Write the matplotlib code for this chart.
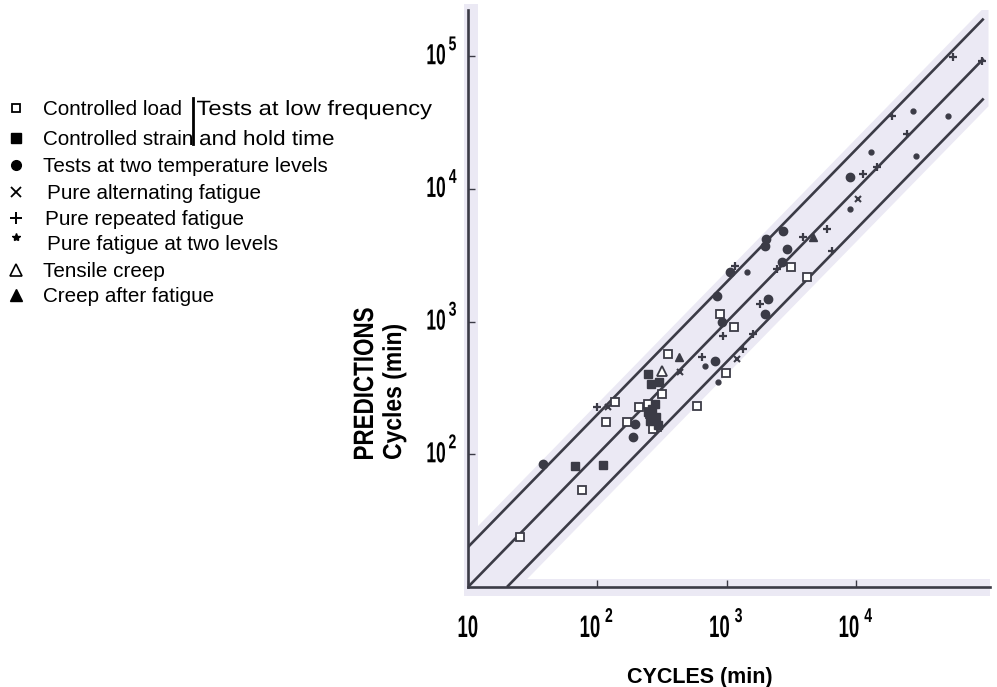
import matplotlib
matplotlib.use("Agg")
import matplotlib.pyplot as plt
from matplotlib.lines import Line2D
from matplotlib.patches import Rectangle, PathPatch
from matplotlib.textpath import TextPath
from matplotlib.font_manager import FontProperties
from matplotlib.transforms import Affine2D, IdentityTransform
import numpy as np

load_obs = [25, 76, 116, 169, 136, 209, 288, 315, 350, 586, 980, 880, 1130, 3100, 4150, 245, 268, 254]
load_pred = [24, 54, 175, 175, 248, 227, 161, 284, 570, 231, 410, 1140, 910, 2600, 2170, 239, 155, 201]

strain_obs = [67, 110, 300, 245, 264, 283, 254, 278, 293, 245, 259]
strain_pred = [82, 83, 350, 400, 219, 191, 178, 239, 166, 208, 339]

twotemp_obs = [38, 188, 195, 810, 840, 1050, 1960, 2000, 2700, 2900, 2660, 910, 2080, 1960, 8900]
twotemp_pred = [85, 135, 169, 505, 1560, 2370, 3700, 4200, 4800, 3500, 2800, 1000, 1480, 1140, 12300]

alt_obs = [120, 430, 1190, 10300]
alt_pred = [227, 415, 520, 8400]

rep_obs = [640, 2430, 3860, 5900, 6470, 11200, 14400, 24500, 55600, 93000, 930, 1330, 1590, 1800, 1150, 99, 18800]
rep_pred = [540, 2490, 4350, 5000, 3400, 12900, 14600, 26000, 98600, 92000, 780, 620, 810, 1360, 2620, 227, 35400]

twolev_obs = [680, 1430, 8900, 13000, 28800, 27300, 51000, 850]
twolev_pred = [460, 2370, 7060, 19000, 17700, 38600, 35400, 350]

creep_obs = [315]
creep_pred = [425]

creepfat_obs = [426, 4600]
creepfat_pred = [540, 4350]

legend_labels = ["Controlled load", "Controlled strain", "Tests at two temperature levels",
                 "Pure alternating fatigue", "Pure repeated fatigue",
                 "Pure fatigue at two levels", "Tensile creep", "Creep after fatigue"]

x_ticks = [10, 100, 1000, 10000]
x_exps = ["", "2", "3", "4"]
y_ticks = [100, 1000, 10000, 100000]
y_exps = ["2", "3", "4", "5"]

# scatter band lines: predicted = factor * observed
band_factors = [2.0, 1.0, 0.5]
line_start = [10, 10, 20]
line_end = 9.6e4

ink = "#3b3b46"
shade = "#ebe9f4"
W, H = 997, 687

plain = ["Liberation Sans", "DejaVu Sans"]

def P(x, y):
    # pixel position -> figure fraction
    return (x / W, 1 - y / H)

fig = plt.figure(figsize=(W / 100, H / 100), dpi=100)


def ctext(s, x, y, size, sx=1.0, rot=0, ha="left", va="baseline", weight="bold"):
    # horizontally squeezed/stretched text, x/y in pixels from top-left
    tp = TextPath((0, 0), s, size=size, prop=FontProperties(family=plain, weight=weight))
    bb = tp.get_extents()
    dx = {"left": -bb.x0, "center": -(bb.x0 + bb.x1) / 2, "right": -bb.x1}[ha]
    dy = {"baseline": 0, "center": -(bb.y0 + bb.y1) / 2, "bottom": -bb.y0, "top": -bb.y1}[va]
    tr = Affine2D().translate(dx, dy).scale(sx, 1).rotate_deg(rot).translate(x, H - y)
    fig.add_artist(PathPatch(tr.transform_path(tp), color="black", lw=0,
                             transform=IdentityTransform()))


ax = fig.add_axes([468 / W, 100 / H, 522 / W, 577 / H])
ax.set_xscale("log")
ax.set_yscale("log")
ax.set_xlim(10, 1.074e5)
ax.set_ylim(10, 2.23e5)

# light band behind the lines (scan tint)
xx = np.array([10, line_end * 1.08])
ax.fill_between(xx, xx * 2.45, xx / 2.45, color=shade, lw=0, zorder=0)
ax.add_patch(Rectangle((-0.007, 0), 0.026, 1.01, transform=ax.transAxes,
                       color=shade, lw=0, zorder=0, clip_on=False))
ax.add_patch(Rectangle((-0.007, -0.016), 1.007, 0.03, transform=ax.transAxes,
                       color=shade, lw=0, zorder=0, clip_on=False))

for f, x0 in zip(band_factors, line_start):
    xs = np.array([x0, line_end])
    ax.plot(xs, xs * f, color=ink, lw=1.9, solid_capstyle="butt", zorder=2)

# markers
ms = 5.5
ax.plot(load_obs, load_pred, "s", ms=ms, mfc="white", mec=ink, mew=1.3, ls="none", zorder=3)
ax.plot(strain_obs, strain_pred, "s", ms=ms, mfc=ink, mec=ink, ls="none", zorder=3)
ax.plot(twotemp_obs, twotemp_pred, "o", ms=6, mfc=ink, mec=ink, ls="none", zorder=3)
ax.plot(alt_obs, alt_pred, "x", ms=5, mec=ink, mew=1.5, ls="none", zorder=3)
ax.plot(rep_obs, rep_pred, "+", ms=6, mec=ink, mew=1.6, ls="none", zorder=3)
ax.plot(twolev_obs, twolev_pred, "o", ms=3.5, mfc=ink, mec=ink, ls="none", zorder=3)
ax.plot(creep_obs, creep_pred, "^", ms=7, mfc="white", mec=ink, mew=1.3, ls="none", zorder=3)
ax.plot(creepfat_obs, creepfat_pred, "^", ms=6, mfc=ink, mec=ink, ls="none", zorder=3)

for side in ["top", "right"]:
    ax.spines[side].set_visible(False)
for side in ["left", "bottom"]:
    ax.spines[side].set_color(ink)
    ax.spines[side].set_linewidth(1.9)
ax.set_facecolor("none")

ax.minorticks_off()
ax.set_xticks(x_ticks)
ax.set_yticks(y_ticks)
ax.tick_params(direction="in", length=5, width=1, color=ink,
               labelbottom=False, labelleft=False)

# tick labels "10" + raised exponent, squeezed bold face, placed through the axes transform
for v, e in zip(x_ticks, x_exps):
    px = ax.transData.transform((v, 10))[0]
    if e:
        ctext("10", px + 2, 637, 31, sx=0.6, ha="right")
        ctext(e, px + 8, 622, 20, sx=0.7, ha="left")
    else:
        ctext("10", px, 637, 31, sx=0.6, ha="center")
for v, e in zip(y_ticks, y_exps):
    py = H - ax.transData.transform((10, v))[1]
    ctext("10", 445, py + 8, 29, sx=0.6, ha="right")
    ctext(e, 449, py - 6, 20, sx=0.7, ha="left")

# axis titles
fig.text(*P(700, 678), "CYCLES (min)", ha="center", va="center",
         family=plain, weight="bold", fontsize=15.5)
ctext("PREDICTIONS", 373, 459, 28, sx=0.8, rot=90, ha="left")
ctext("Cycles (min)", 401, 459, 26, sx=0.88, rot=90, ha="left")

# legend drawn by hand, like the original figure
rows = [108, 138, 165, 192, 218, 243, 270, 295]
styles = [
    dict(marker="s", ms=6, mfc="white", mec="black", mew=1.3),
    dict(marker="s", ms=7, mfc="black", mec="black"),
    dict(marker="o", ms=7, mfc="black", mec="black"),
    dict(marker="x", ms=7, mec="black", mew=1.3),
    dict(marker="+", ms=9, mec="black", mew=1.4),
    dict(marker="*", ms=6, mfc="black", mec="black"),
    dict(marker="^", ms=9, mfc="white", mec="black", mew=1.2),
    dict(marker="^", ms=9, mfc="black", mec="black"),
]
text_x = [43, 43, 43, 47, 45, 47, 43, 43]
for y, st, lab, tx in zip(rows, styles, legend_labels, text_x):
    my = y - 6 if st["marker"] == "*" else y
    fig.add_artist(Line2D([P(16, my)[0]], [P(16, my)[1]], ls="none", **st))
    fig.text(*P(tx, y + 7), lab, ha="left", va="baseline", family=plain, fontsize=14.9)

fig.add_artist(Line2D([193 / W, 193 / W], [1 - 98 / H, 1 - 144 / H], color="black", lw=2))
ctext("Tests at low frequency", 197, 115, 20.7, sx=1.15, weight="normal")
ctext("and hold time", 200, 145, 20.7, sx=1.09, weight="normal")

fig.savefig("out.png", dpi=100)
